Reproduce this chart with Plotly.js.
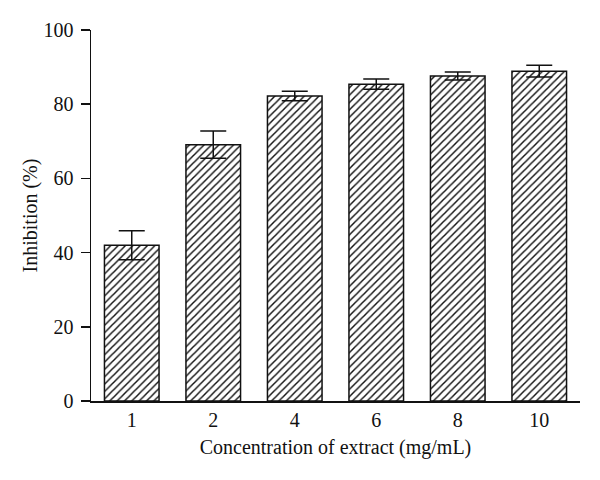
<!DOCTYPE html>
<html>
<head>
<meta charset="utf-8">
<script src="https://cdn.plot.ly/plotly-3.0.1.min.js"></script>
<style>html,body{margin:0;padding:0;background:#fff;}#chart{width:600px;height:480px;}</style>
</head>
<body>
<div id="chart"></div>
<script>
const categories = ["1", "2", "4", "6", "8", "10"];
const inhibition = [42.0, 69.1, 82.2, 85.4, 87.6, 88.9];
const errors = [3.9, 3.7, 1.3, 1.4, 1.1, 1.6];
const yTicks = [0, 20, 40, 60, 80, 100];

const font = "Liberation Serif, Times New Roman, serif";
const fs = 20;

const trace = {
  type: "bar",
  x: categories,
  y: inhibition,
  marker: {
    color: "#ffffff",
    line: {color: "#111111", width: 1.5},
    pattern: {shape: "/", fgcolor: "#111111", bgcolor: "#ffffff", size: 5.2, solidity: 0.28}
  },
  error_y: {type: "data", array: errors, visible: true, color: "#111111", thickness: 1.5, width: 13},
  hoverinfo: "none"
};

const layout = {
  width: 600, height: 480,
  margin: {l: 91, r: 20, t: 30, b: 79},
  paper_bgcolor: "#ffffff", plot_bgcolor: "#ffffff",
  showlegend: false,
  bargap: 0.33,
  font: {family: font, size: fs, color: "#111111"},
  xaxis: {
    type: "category",
    range: [-0.5, 5.5],
    showline: true, linecolor: "#111111", linewidth: 1.5,
    ticks: "", showgrid: false, zeroline: false,
    ticklabelstandoff: 0,
    tickfont: {family: font, size: fs, color: "#111111"},
    title: {text: "Concentration of extract (mg/mL)", font: {family: font, size: fs, color: "#111111"}, standoff: 10}
  },
  yaxis: {
    range: [0, 100],
    tickvals: yTicks,
    ticktext: yTicks.map(String),
    showline: true, linecolor: "#111111", linewidth: 1.5,
    ticks: "outside", ticklen: 9, tickwidth: 1.5, tickcolor: "#111111",
    ticklabelstandoff: 3,
    showgrid: false, zeroline: false,
    tickfont: {family: font, size: fs, color: "#111111"},
    title: {text: "Inhibition (%)", font: {family: font, size: fs, color: "#111111"}, standoff: 0}
  },
  shapes: [{
    type: "line", xref: "paper", yref: "y",
    x0: -0.0184, x1: 0, y0: 0, y1: 0,
    line: {color: "#111111", width: 1.5}
  }]
};

Plotly.newPlot("chart", [trace], layout, {displayModeBar: false, staticPlot: true});
</script>
</body>
</html>
